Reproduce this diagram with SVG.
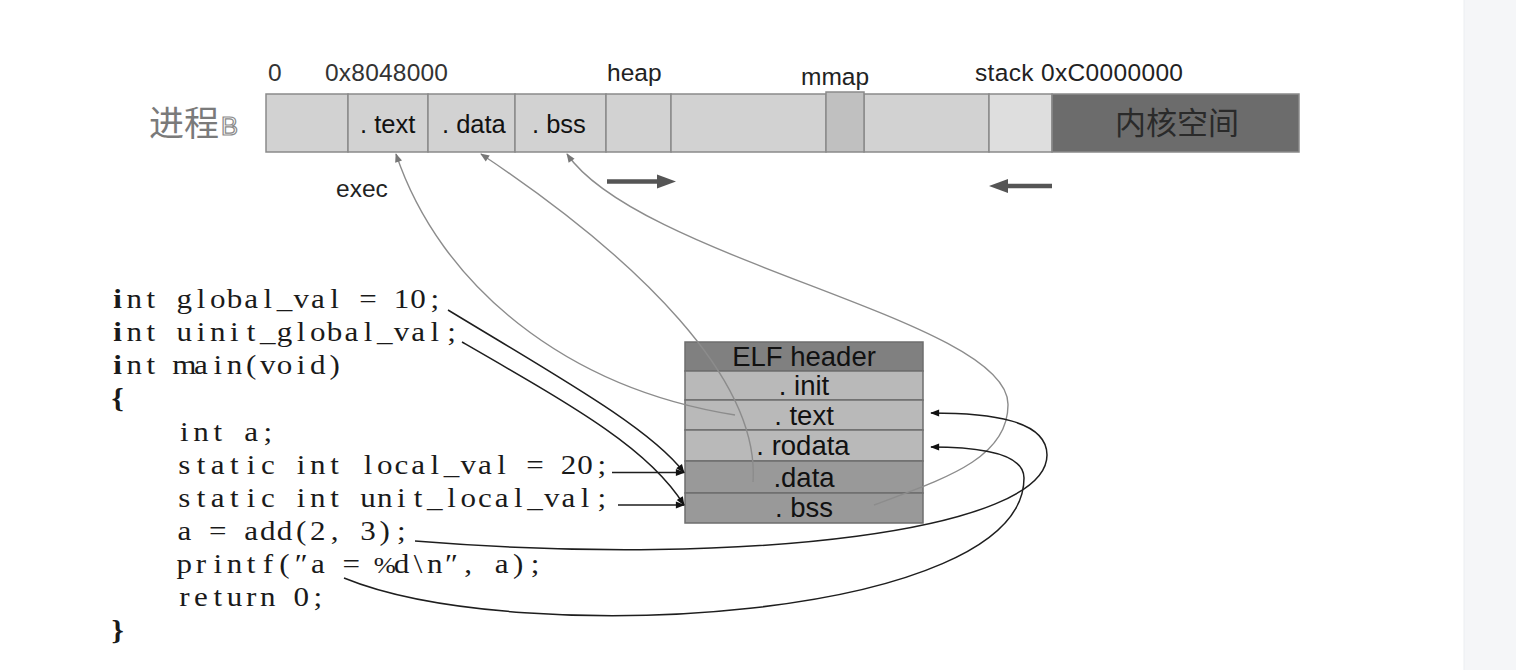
<svg xmlns="http://www.w3.org/2000/svg" width="1516" height="670" viewBox="0 0 1516 670">
<style>
.lbl{font-family:"Liberation Sans",Arial,sans-serif;font-size:24.5px;fill:#222}
.cell{stroke:#8a8a8a;stroke-width:1.5}
.ctext{font-family:"Liberation Sans",Arial,sans-serif;font-size:25.5px;fill:#111}
.erow{stroke:#6e6e6e;stroke-width:1.5}
.etext{font-family:"Liberation Sans",Arial,sans-serif;font-size:27.5px;fill:#111;text-anchor:middle}
.code{font-family:"Liberation Serif","Times New Roman",serif;font-size:27px;fill:#1a1a1a;text-anchor:middle}
.gray{fill:none;stroke:#8c8c8c;stroke-width:1.4}
.blk{fill:none;stroke:#1e1e1e;stroke-width:1.5}
.thick{stroke:#555;stroke-width:4.5}
</style>
<defs>
<marker id="ab" viewBox="0 0 10 10" refX="9" refY="5" markerWidth="10" markerHeight="9" markerUnits="userSpaceOnUse" orient="auto"><path d="M0,1 L10,5 L0,9 z" fill="#111"/></marker>
<marker id="ag" viewBox="0 0 10 10" refX="9" refY="5" markerWidth="11" markerHeight="9" markerUnits="userSpaceOnUse" orient="auto"><path d="M0,1 L10,5 L0,9 z" fill="#777"/></marker>
</defs>
<rect x="0" y="0" width="1516" height="670" fill="#ffffff"/>
<rect x="1464" y="0" width="52" height="670" fill="#f5f6f8"/>
<line x1="1464" y1="0" x2="1464" y2="670" stroke="#eceef1" stroke-width="1"/>

<g id="process-label">
<text x="149" y="136" font-family="'Noto Sans CJK SC',sans-serif" font-size="35" fill="#7a7a7a">进程</text>
<text x="221" y="135" font-family="'Liberation Sans',Arial,sans-serif" font-size="25" textLength="17" lengthAdjust="spacingAndGlyphs" fill="#ffffff" stroke="#8a8a8a" stroke-width="1.2">B</text>
</g>

<g id="address-labels">
<text class="lbl" x="268" y="81" style="fill:#333">0</text>
<text class="lbl" x="325" y="81" textLength="123" style="fill:#333">0x8048000</text>
<text class="lbl" x="607" y="81">heap</text>
<text class="lbl" x="801" y="85">mmap</text>
<text class="lbl" x="975" y="81" textLength="208">stack 0xC0000000</text>
<text class="lbl" x="336" y="197">exec</text>
</g>

<g id="process-bar">
<rect class="cell" x="266" y="94" width="82" height="58" fill="#d2d2d2"/>
<rect class="cell" x="348" y="94" width="80" height="58" fill="#d2d2d2"/>
<rect class="cell" x="428" y="94" width="87" height="58" fill="#d2d2d2"/>
<rect class="cell" x="515" y="94" width="91" height="58" fill="#d2d2d2"/>
<rect class="cell" x="606" y="94" width="65" height="58" fill="#d2d2d2"/>
<rect class="cell" x="671" y="94" width="155" height="58" fill="#d2d2d2"/>
<rect class="cell" x="864" y="94" width="125" height="58" fill="#d2d2d2"/>
<rect class="cell" x="826" y="92" width="38" height="60" fill="#c0c0c0"/>
<rect class="cell" x="989" y="94" width="63" height="58" fill="#dedede"/>
<rect class="cell" x="1052" y="94" width="247" height="58" fill="#6c6c6c"/>
<text class="ctext" x="360" y="133">. text</text>
<text class="ctext" x="442" y="133">. data</text>
<text class="ctext" x="532" y="133">. bss</text>
<text x="1177" y="134" text-anchor="middle" font-family="'Noto Sans CJK SC',sans-serif" font-size="31" fill="#2a2a2a">内核空间</text>
</g>

<g id="growth-arrows">
<line class="thick" x1="607" y1="181.5" x2="660" y2="181.5"/>
<polygon points="676,181.5 657,174.5 657,188.5" fill="#555"/>
<line class="thick" x1="1052" y1="186" x2="1005" y2="186"/>
<polygon points="989,186 1008,179 1008,193" fill="#555"/>
</g>

<g id="elf">
<rect x="685" y="342" width="238" height="29" fill="#808080" class="erow"/>
<rect x="685" y="371" width="238" height="29" fill="#b9b9b9" class="erow"/>
<rect x="685" y="400" width="238" height="30" fill="#b9b9b9" class="erow"/>
<rect x="685" y="430" width="238" height="31" fill="#b9b9b9" class="erow"/>
<rect x="685" y="461" width="238" height="32" fill="#999999" class="erow"/>
<rect x="685" y="493" width="238" height="30" fill="#999999" class="erow"/>
<text class="etext" x="804" y="366">ELF header</text>
<text class="etext" x="804" y="395">. init</text>
<text class="etext" x="804" y="425">. text</text>
<text class="etext" x="803" y="455">. rodata</text>
<text class="etext" x="804" y="486.5">.data</text>
<text class="etext" x="804" y="516.5">. bss</text>
</g>

<g id="code" transform="matrix(1.15 0 0 1 117.5 0)">
<text class="code" y="308" x="0 14.52 29.04 43.57 58.09 72.61 87.13 101.65 116.17 130.7 145.22 159.74 174.26 188.78 203.3 217.83 232.35 246.87 261.39 275.91"><tspan font-weight="bold">i</tspan>nt global_val = 10;</text>
<text class="code" y="341" x="0 14.52 29.04 43.57 58.09 72.61 87.13 101.65 116.17 130.7 145.22 159.74 174.26 188.78 203.3 217.83 232.35 246.87 261.39 275.91 290.43"><tspan font-weight="bold">i</tspan>nt uinit_global_val;</text>
<text class="code" y="374" x="0 14.52 29.04 43.57 58.09 72.61 87.13 101.65 116.17 130.7 145.22 159.74 174.26 188.78"><tspan font-weight="bold">i</tspan>nt main(void)</text>
<text class="code" y="407" x="0" font-weight="bold">{</text>
<text class="code" y="441" x="58.09 72.61 87.13 101.65 116.17 130.7">int a;</text>
<text class="code" y="474" x="58.09 72.61 87.13 101.65 116.17 130.7 145.22 159.74 174.26 188.78 203.3 217.83 232.35 246.87 261.39 275.91 290.43 304.96 319.48 334 348.52 363.04 377.57 392.09 406.61 421.13">static int local_val = 20;</text>
<text class="code" y="507" x="58.09 72.61 87.13 101.65 116.17 130.7 145.22 159.74 174.26 188.78 203.3 217.83 232.35 246.87 261.39 275.91 290.43 304.96 319.48 334 348.52 363.04 377.57 392.09 406.61 421.13">static int unit_local_val;</text>
<text class="code" y="540" x="58.09 72.61 87.13 101.65 116.17 130.7 145.22 159.74 174.26 188.78 203.3 217.83 232.35 246.87">a = add(2, 3);</text>
<text class="code" y="573" x="58.09 72.61 87.13 101.65 116.17 130.7 145.22 159.74 174.26 188.78 203.3 217.83 232.35 246.87 261.39 275.91 290.43 304.96 319.48 334 348.52 363.04">printf(″a = <tspan font-size="23px">%</tspan>d\n″, a);</text>
<text class="code" y="606" x="58.09 72.61 87.13 101.65 116.17 130.7 145.22 159.74 174.26">return 0;</text>
<text class="code" y="639" x="0" font-weight="bold">}</text>
</g>

<g id="connectors">
<path class="gray" d="M735,415 C565,388 440,285 396,154" marker-end="url(#ag)"/>
<path class="gray" d="M753,482 C760,380 640,260 481,154" marker-end="url(#ag)"/>
<path class="gray" d="M874,505 C940,480 1008,460 1008,405 C1010,320 640,260 567,154" marker-end="url(#ag)"/>
<path class="blk" d="M448,310 C560,378 650,428 684,472.5" marker-end="url(#ab)"/>
<path class="blk" d="M462,342 C580,410 650,450 684,505" marker-end="url(#ab)"/>
<path class="blk" d="M612,472.5 L684,472.5" marker-end="url(#ab)"/>
<path class="blk" d="M618,505 L684,505" marker-end="url(#ab)"/>
<path class="blk" d="M415,541 C750,568 1047,530 1047,455 C1047,420 990,413 931,413" marker-end="url(#ab)"/>
<path class="blk" d="M344,578 C520,650 1024,620 1024,478 C1024,455 985,447 931,447" marker-end="url(#ab)"/>
</g>
</svg>
